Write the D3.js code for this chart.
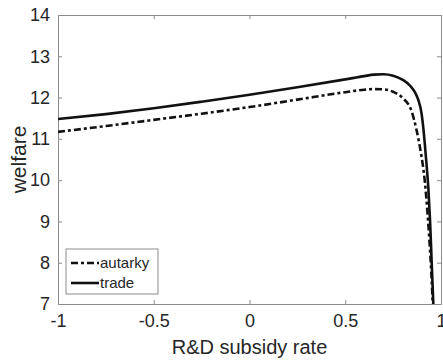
<!DOCTYPE html>
<meta charset="utf-8">
<script src="https://cdn.jsdelivr.net/npm/d3@7"></script>
<style>
  body { margin: 0; background: #fff; }
  text { font-family: "Liberation Sans", Arial, sans-serif; fill: #262626; }
</style>
<div id="my_dataviz"></div>
<script>

// R&D subsidy rate (x) and welfare
var tradeX   = [-1, -0.75, -0.5, -0.25, 0, 0.25, 0.5, 0.6, 0.65, 0.7, 0.75, 0.8, 0.84, 0.865, 0.881, 0.899, 0.908, 0.916, 0.925, 0.934, 0.943, 0.951, 0.96];
var tradeY   = [11.48, 11.60, 11.74, 11.90, 12.07, 12.25, 12.44, 12.52, 12.555, 12.565, 12.53, 12.43, 12.28, 12.12, 11.95, 11.6, 11.25, 10.85, 10.35, 9.8, 9.0, 8.05, 7.0];
var autarkyX = [-1, -0.75, -0.5, -0.25, 0, 0.25, 0.5, 0.6, 0.65, 0.7, 0.75, 0.8, 0.847, 0.873, 0.89, 0.904, 0.916, 0.928, 0.94, 0.949, 0.957];
var autarkyY = [11.17, 11.31, 11.46, 11.61, 11.77, 11.95, 12.13, 12.19, 12.205, 12.20, 12.14, 11.99, 11.66, 11.2, 10.8, 10.4, 9.95, 9.3, 8.5, 7.8, 7.0];

var xTicks = [-1, -0.5, 0, 0.5, 1];
var yTicks = [7, 8, 9, 10, 11, 12, 13, 14];
var seriesNames = ["autarky", "trade"];

var margin = {top: 15, right: 2, bottom: 59, left: 58},
  width = 443 - margin.left - margin.right,
  height = 363 - margin.top - margin.bottom;

var svg = d3.select("#my_dataviz")
  .append("svg")
    .attr("width", 443)
    .attr("height", 363)
  .append("g")
    .attr("transform", "translate(" + margin.left + "," + margin.top + ")");

var xScale = d3.scaleLinear().domain([-1, 1]).range([0, width]);
var yScale = d3.scaleLinear().domain([7, 14]).range([height, 0]);

var axisColor = "#8c8c8c";
var plain = function(d) { return String(d); };

// axes with inward ticks, box on
svg.append("g")
  .attr("transform", "translate(0," + height + ")")
  .call(d3.axisBottom(xScale).tickValues(xTicks).tickSizeInner(-4).tickSizeOuter(0).tickPadding(10).tickFormat(plain));
svg.append("g")
  .call(d3.axisLeft(yScale).tickValues(yTicks).tickSizeInner(-4).tickSizeOuter(0).tickPadding(8).tickFormat(plain));
svg.append("g")
  .call(d3.axisTop(xScale).tickValues(xTicks).tickSizeInner(-4).tickSizeOuter(0).tickFormat(""));
svg.append("g")
  .attr("transform", "translate(" + width + ",0)")
  .call(d3.axisRight(yScale).tickValues(yTicks).tickSizeInner(-4).tickSizeOuter(0).tickFormat(""));

svg.selectAll(".domain, .tick line").attr("stroke", axisColor);
svg.selectAll(".tick text")
  .style("font-size", "18px")
  .style("font-family", "Liberation Sans, Arial, sans-serif")
  .attr("fill", "#262626");

// clip curves to the plot box
svg.append("clipPath").attr("id", "clip")
  .append("rect").attr("width", width).attr("height", height);

var line = d3.line()
  .x(function(d) { return xScale(d[0]); })
  .y(function(d) { return yScale(d[1]); })
  .curve(d3.curveMonotoneX);

var autarky = autarkyX.map(function(x, i) { return [x, autarkyY[i]]; });
var trade = tradeX.map(function(x, i) { return [x, tradeY[i]]; });

svg.append("path")
  .datum(trade)
  .attr("clip-path", "url(#clip)")
  .attr("d", line)
  .attr("fill", "none")
  .attr("stroke", "#111")
  .attr("stroke-width", 2.6);

svg.append("path")
  .datum(autarky)
  .attr("clip-path", "url(#clip)")
  .attr("d", line)
  .attr("fill", "none")
  .attr("stroke", "#111")
  .attr("stroke-width", 2.6)
  .attr("stroke-dasharray", "7,3,3,3");

// axis labels
svg.append("text")
  .attr("x", xScale(0))
  .attr("y", height + 50)
  .style("text-anchor", "middle")
  .style("font-size", "20px")
  .text("R&D subsidy rate");

svg.append("text")
  .attr("transform", "translate(" + (-32) + "," + (height / 2) + ") rotate(-90)")
  .style("text-anchor", "middle")
  .style("font-size", "21px")
  .text("welfare");

// legend
var legend = svg.append("g").attr("transform", "translate(8," + (height - 55) + ")");
legend.append("rect")
  .attr("width", 92)
  .attr("height", 45)
  .attr("fill", "#fff")
  .attr("stroke", axisColor);
seriesNames.forEach(function(name, i) {
  var yy = 14 + i * 20;
  legend.append("line")
    .attr("x1", 5).attr("x2", 33)
    .attr("y1", yy).attr("y2", yy)
    .attr("stroke", "#111")
    .attr("stroke-width", 2.6)
    .attr("stroke-dasharray", name == "autarky" ? "7,3,3,3" : null);
  legend.append("text")
    .attr("x", 34)
    .attr("y", yy + 5)
    .style("font-size", "15px")
    .text(name);
});

</script>
